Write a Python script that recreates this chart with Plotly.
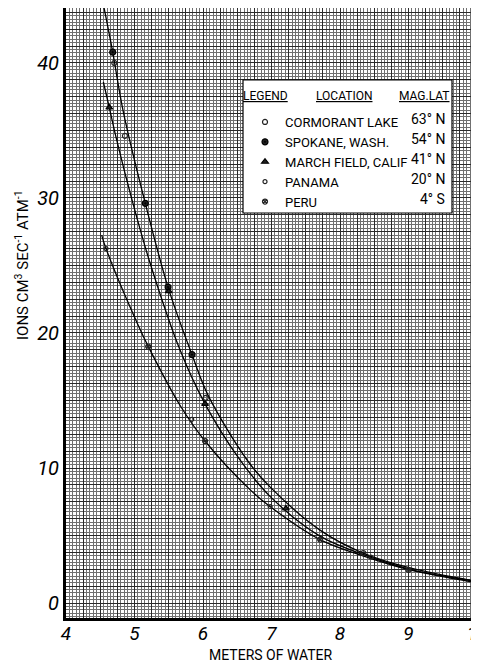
import numpy as np
import plotly.graph_objects as go

# ---- data ----
# smooth fitted curves (meters of water, ionisation)
top_x = [4.555, 4.682, 4.836, 5.158, 5.489, 5.839, 6.073, 6.657, 6.978, 7.708, 8.336, 9.022, 10.0]
top_y = [44.1, 40.8, 36.4, 29.6, 23.4, 18.4, 15.4, 10.5, 8.6, 5.4, 3.7, 2.6, 1.6]

mid_x = [4.545, 4.632, 4.73, 4.964, 5.226, 5.664, 6.029, 6.54, 6.978, 7.708, 8.336, 9.022, 10.0]
mid_y = [38.6, 36.7, 34.5, 29.85, 25.2, 18.75, 14.75, 10.6, 7.9, 4.95, 3.6, 2.5, 1.6]

low_x = [4.521, 4.584, 5.047, 5.226, 5.664, 6.029, 6.686, 6.978, 7.708, 8.336, 9.022, 10.0]
low_y = [27.25, 26.25, 20.65, 18.75, 14.65, 12.0, 8.4, 7.15, 4.7, 3.5, 2.45, 1.5]

# observations
cormorant_x = [4.705, 4.86, 6.04, 8.34]
cormorant_y = [40.0, 34.6, 15.2, 3.7]
spokane_x = [4.682, 5.158, 5.49, 5.84]
spokane_y = [40.8, 29.6, 23.4, 18.4]
march_x = [4.632, 5.50, 6.03, 7.21]
march_y = [36.7, 23.1, 14.75, 7.0]
panama_x = [4.584, 5.835, 6.98, 8.45]
panama_y = [26.25, 13.6, 7.15, 3.4]
peru_x = [5.20, 6.03, 7.71, 9.0]
peru_y = [19.0, 12.0, 4.7, 2.45]

locations = ["CORMORANT LAKE", "SPOKANE, WASH.", "MARCH FIELD, CALIF", "PANAMA", "PERU"]
mag_lat = ["63° N", "54° N", "41° N", "20° N", "4° S"]

x_label_vals = [4, 5, 6, 7, 8, 9, 10]
y_label_vals = [0, 10, 20, 30, 40]

FONT = "Roboto, Liberation Sans, sans-serif"

fig = go.Figure()

for cx, cy in [(top_x, top_y), (mid_x, mid_y), (low_x, low_y)]:
    fig.add_trace(go.Scatter(x=cx, y=cy, mode="lines", showlegend=False,
                             line=dict(color="black", width=1.3, shape="spline", smoothing=1.0),
                             hoverinfo="skip"))

series = [
    (cormorant_x, cormorant_y, "circle-open", 5),
    (spokane_x, spokane_y, "circle-dot", 6),
    (march_x, march_y, "triangle-up", 6),
    (panama_x, panama_y, "circle-open", 4),
    (peru_x, peru_y, "circle-x-open", 5),
]
for (sx, sy, sym, sz), name in zip(series, locations):
    fig.add_trace(go.Scatter(
        x=sx, y=sy, mode="markers", name=name,
        marker=dict(symbol=sym, size=sz, color="#222222",
                    line=dict(color="black", width=1.2)),
    ))

# grid ticks: heavy lines every 0.25 m (x) and 1.25 units (y)
xt = list(np.arange(4, 10.001, 0.25))
xtext = [str(int(round(v))) if abs(v - round(v)) < 1e-6 and int(round(v)) in x_label_vals else " " for v in xt]
yt = list(np.arange(0, 45.001, 1.25))
ytext = [str(int(round(v))) if abs(v - round(v)) < 1e-6 and int(round(v)) in y_label_vals else " " for v in yt]

fig.update_xaxes(
    range=[4, 10], tickvals=xt, ticktext=xtext, ticks="", showgrid=True,
    gridcolor="#2a2a2a", gridwidth=1.2,
    minor=dict(dtick=0.05, showgrid=True, gridcolor="#707070", gridwidth=1),
    showline=True, linecolor="black", linewidth=3, mirror=True,
    tickfont=dict(family=FONT, size=19, color="black", style="italic"),
    ticklabeloverflow="allow", ticklabelstandoff=-4,
    zeroline=False, automargin=False,
)
fig.update_yaxes(
    range=[-1.11, 44.07], tickvals=yt, ticktext=ytext, ticks="", showgrid=True,
    gridcolor="#2a2a2a", gridwidth=1.2,
    minor=dict(dtick=0.25, showgrid=True, gridcolor="#707070", gridwidth=1),
    showline=True, linecolor="black", linewidth=3, mirror=True,
    tickfont=dict(family=FONT, size=20, color="black", style="italic"),
    zeroline=False, automargin=False,
)

# page has an 8px body margin: screen = figure + 8
def px(xpix):
    return (xpix - 66) / 411.0

def py(ypix):
    return (618 - ypix) / 610.0

# axis titles
fig.add_annotation(text="METERS OF WATER", xref="paper", yref="paper", x=px(271), y=py(655),
                   showarrow=False, xanchor="center", yanchor="middle",
                   font=dict(family=FONT, size=14, color="black"))
fig.add_annotation(text="IONS CM<sup>3</sup> SEC<sup>-1</sup> ATM<sup>-1</sup>", textangle=-90,
                   xref="paper", yref="paper", x=px(22), y=py(265),
                   showarrow=False, xanchor="center", yanchor="middle",
                   font=dict(family=FONT, size=15, color="black"))

# legend box
fig.add_shape(type="rect", xref="paper", yref="paper",
              x0=px(243), x1=px(452), y0=py(213), y1=py(80),
              fillcolor="white", line=dict(color="black", width=1.2), layer="above")

headers = [("<u>LEGEND</u>", 265), ("<u>LOCATION</u>", 344), ("<u>MAG.LAT</u>", 424)]
for txt, xc in headers:
    fig.add_annotation(text=txt, xref="paper", yref="paper", x=px(xc), y=py(96),
                       showarrow=False, xanchor="center", yanchor="middle",
                       font=dict(family=FONT, size=12, color="black"))

row_y = [119, 139, 159, 179, 199]
for lat, ry in zip(mag_lat, row_y):
    fig.add_annotation(text=lat, xref="paper", yref="paper", x=px(447), y=py(ry),
                       showarrow=False, xanchor="right", yanchor="middle",
                       font=dict(family=FONT, size=14, color="black"))

fig.update_layout(
    width=471, height=654,
    margin=dict(l=58, r=2, t=0, b=44),
    paper_bgcolor="white", plot_bgcolor="white",
    showlegend=True,
    legend=dict(x=px(245), y=py(107), xanchor="left", yanchor="top",
                bgcolor="rgba(0,0,0,0)", borderwidth=0,
                font=dict(family=FONT, size=13, color="black"),
                tracegroupgap=0),
    font=dict(family=FONT, color="black"),
)

fig.write_html("out.html")
